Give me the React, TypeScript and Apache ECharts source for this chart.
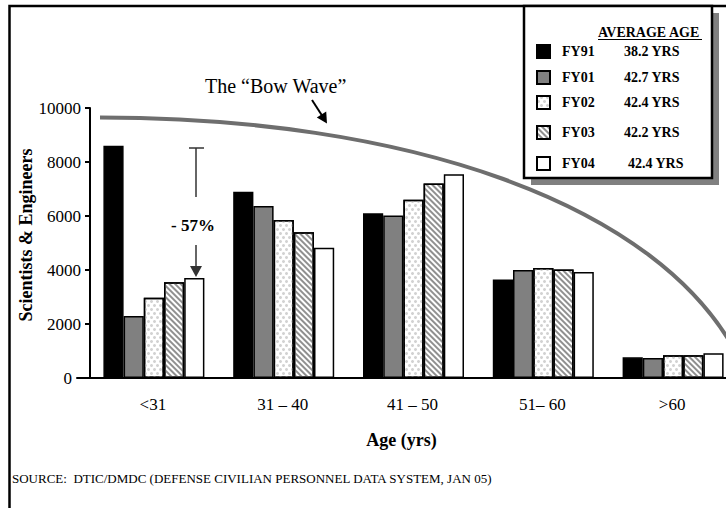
import React, { useEffect, useRef } from "react";
import * as echarts from "echarts";

const FONT = "Liberation Serif";

const categories = ["<31", "31 – 40", "41 – 50", "51– 60", ">60"];
const seriesNames = ["FY91", "FY01", "FY02", "FY03", "FY04"];
const averageAges = ["38.2 YRS", "42.7 YRS", "42.4 YRS", "42.2 YRS", "42.4 YRS"];
const fy91 = [8600, 6900, 6100, 3650, 765];
const fy01 = [2300, 6370, 6020, 4000, 740];
const fy02 = [2970, 5850, 6600, 4070, 840];
const fy03 = [3550, 5400, 7200, 4020, 840];
const fy04 = [3700, 4820, 7550, 3930, 915];
const yTicks = { min: 0, max: 10000, interval: 2000 };

const legendRowY = [52, 78, 103, 133, 164];

export default function App() {
  const ref = useRef<HTMLDivElement>(null);

  useEffect(() => {
    if (!ref.current) return;
    const chart = echarts.init(ref.current, null, { renderer: "svg" });

    const values = [fy91, fy01, fy02, fy03, fy04];
    const styles: any[] = [
      { color: "#000000" },
      { color: "#808080" },
      {
        color: "#ffffff",
        decal: {
          symbol: "circle",
          symbolSize: 1,
          dashArrayX: [[3, 3], [0, 3, 3, 0]],
          dashArrayY: [3, 1],
          color: "#d2d2d2",
        },
      },
      {
        color: "#ffffff",
        decal: {
          symbol: "rect",
          symbolSize: 1,
          dashArrayX: [1, 0],
          dashArrayY: [2, 2],
          rotation: Math.PI / 4,
          color: "#909090",
        },
      },
      { color: "#ffffff" },
    ];

    const series: any[] = [
      {
        type: "bar",
        name: "spacer",
        data: categories.map(() => null),
        barWidth: 24,
        barGap: "0%",
        silent: true,
      },
      ...seriesNames.map((name, i) => ({
        type: "bar",
        name,
        data: values[i],
        barWidth: 20.2,
        barGap: "0%",
        itemStyle: { ...styles[i], borderColor: "#000", borderWidth: 1.5 },
      })),
    ];

    const legends = seriesNames.map((name, i) => ({
      data: [name],
      left: 536,
      top: legendRowY[i] - 8,
      padding: 0,
      orient: "vertical",
      icon: "rect",
      itemWidth: 13,
      itemHeight: 13,
      selectedMode: false,
      formatter: (n: string) => `{g|}{n|${n}}{v|${averageAges[i]}}`,
      textStyle: {
        fontFamily: FONT,
        fontWeight: "bold",
        fontSize: 14,
        color: "#000",
        rich: {
          g: { width: 7 },
          n: { width: i === 4 ? 66 : 62, fontFamily: FONT, fontWeight: "bold", fontSize: 14, color: "#000" },
          v: { fontFamily: FONT, fontWeight: "bold", fontSize: 14, color: "#000" },
        },
      },
    }));

    chart.setOption({
      animation: false,
      backgroundColor: "#ffffff",
      textStyle: { fontFamily: FONT },
      grid: { left: 77, top: 108, width: 660, height: 270 },
      legend: legends,
      xAxis: {
        type: "category",
        data: categories,
        axisLine: { lineStyle: { color: "#000", width: 2 } },
        axisTick: { length: 4, lineStyle: { color: "#000", width: 2 } },
        axisLabel: {
          fontSize: 17,
          color: "#000",
          fontFamily: FONT,
          margin: 18,
          padding: [0, 0, 0, 22],
        },
        name: "Age (yrs)",
        nameLocation: "middle",
        nameGap: 53,
        nameTextStyle: { fontFamily: FONT, fontWeight: "bold", fontSize: 18, color: "#000" },
      },
      yAxis: {
        type: "value",
        min: yTicks.min,
        max: yTicks.max,
        interval: yTicks.interval,
        offset: -13,
        axisLine: { show: true, lineStyle: { color: "#000", width: 2 } },
        axisTick: { show: true, length: 5, lineStyle: { color: "#000", width: 2 } },
        splitLine: { show: false },
        axisLabel: {
          fontSize: 17,
          color: "#000",
          fontFamily: FONT,
          margin: 9,
          formatter: (v: number) => (v === 0 ? "{z|0}" : String(v)),
          rich: { z: { padding: [0, 9, 0, 0], fontSize: 17, fontFamily: FONT, color: "#000" } },
        },
      },
      series,
      graphic: [
        {
          type: "rect",
          silent: true,
          z: 0,
          shape: { x: 9.5, y: 6, width: 900, height: 700 },
          style: { fill: "none", stroke: "#000", lineWidth: 2.5 },
        },
        {
          type: "rect",
          silent: true,
          z: 1,
          shape: { x: 531, y: 13, width: 188, height: 172 },
          style: { fill: "#808080" },
        },
        {
          type: "rect",
          silent: true,
          z: 2,
          shape: { x: 524, y: 6, width: 188, height: 172 },
          style: { fill: "#ffffff", stroke: "#000", lineWidth: 2.5 },
        },
        {
          type: "text",
          z: 3,
          x: 598,
          y: 32,
          style: {
            text: "AVERAGE AGE",
            font: `bold 14px ${FONT}`,
            fill: "#000",
            verticalAlign: "middle",
          },
        },
        {
          type: "line",
          z: 3,
          shape: { x1: 598, y1: 39.5, x2: 702, y2: 39.5 },
          style: { stroke: "#000", lineWidth: 1 },
        },
        {
          type: "bezierCurve",
          z: 1,
          silent: true,
          shape: { x1: 100, y1: 117.5, cpx1: 400, cpy1: 117.5, cpx2: 660, cpy2: 200, x2: 740, y2: 360 },
          style: { stroke: "#6e6e6e", lineWidth: 4, fill: "none" },
        },
        {
          type: "text",
          z: 3,
          x: 205,
          y: 86,
          style: {
            text: "The “Bow Wave”",
            font: `20px ${FONT}`,
            fill: "#000",
            verticalAlign: "middle",
          },
        },
        {
          type: "line",
          z: 3,
          shape: { x1: 312, y1: 100, x2: 322, y2: 115.5 },
          style: { stroke: "#000", lineWidth: 2 },
        },
        {
          type: "polygon",
          z: 3,
          shape: { points: [[327, 123.5], [316.8, 117.6], [326.2, 111.6]] },
          style: { fill: "#000" },
        },
        {
          type: "line",
          z: 3,
          shape: { x1: 196, y1: 148, x2: 196, y2: 197 },
          style: { stroke: "#333", lineWidth: 1.5 },
        },
        {
          type: "line",
          z: 3,
          shape: { x1: 189, y1: 148, x2: 204, y2: 148 },
          style: { stroke: "#333", lineWidth: 1.5 },
        },
        {
          type: "text",
          z: 3,
          x: 193,
          y: 225,
          style: {
            text: "- 57%",
            font: `bold 17px ${FONT}`,
            fill: "#000",
            align: "center",
            verticalAlign: "middle",
          },
        },
        {
          type: "line",
          z: 3,
          shape: { x1: 196, y1: 245, x2: 196, y2: 268 },
          style: { stroke: "#333", lineWidth: 1.5 },
        },
        {
          type: "polygon",
          z: 3,
          shape: { points: [[190, 266], [202, 266], [196, 277]] },
          style: { fill: "#333" },
        },
        {
          type: "text",
          z: 3,
          x: 26,
          y: 235,
          rotation: Math.PI / 2,
          style: {
            text: "Scientists & Engineers",
            font: `bold 18px ${FONT}`,
            fill: "#000",
            align: "center",
            verticalAlign: "middle",
          },
        },
        {
          type: "text",
          z: 3,
          x: 12,
          y: 478,
          style: {
            text: "SOURCE:  DTIC/DMDC (DEFENSE CIVILIAN PERSONNEL DATA SYSTEM, JAN 05)",
            font: `13px ${FONT}`,
            fill: "#000",
            verticalAlign: "middle",
          },
        },
      ],
    });

    return () => chart.dispose();
  }, []);

  return (
    <div
      ref={ref}
      style={{ position: "fixed", left: 0, top: 0, width: 726, height: 508, background: "#fff" }}
    />
  );
}
